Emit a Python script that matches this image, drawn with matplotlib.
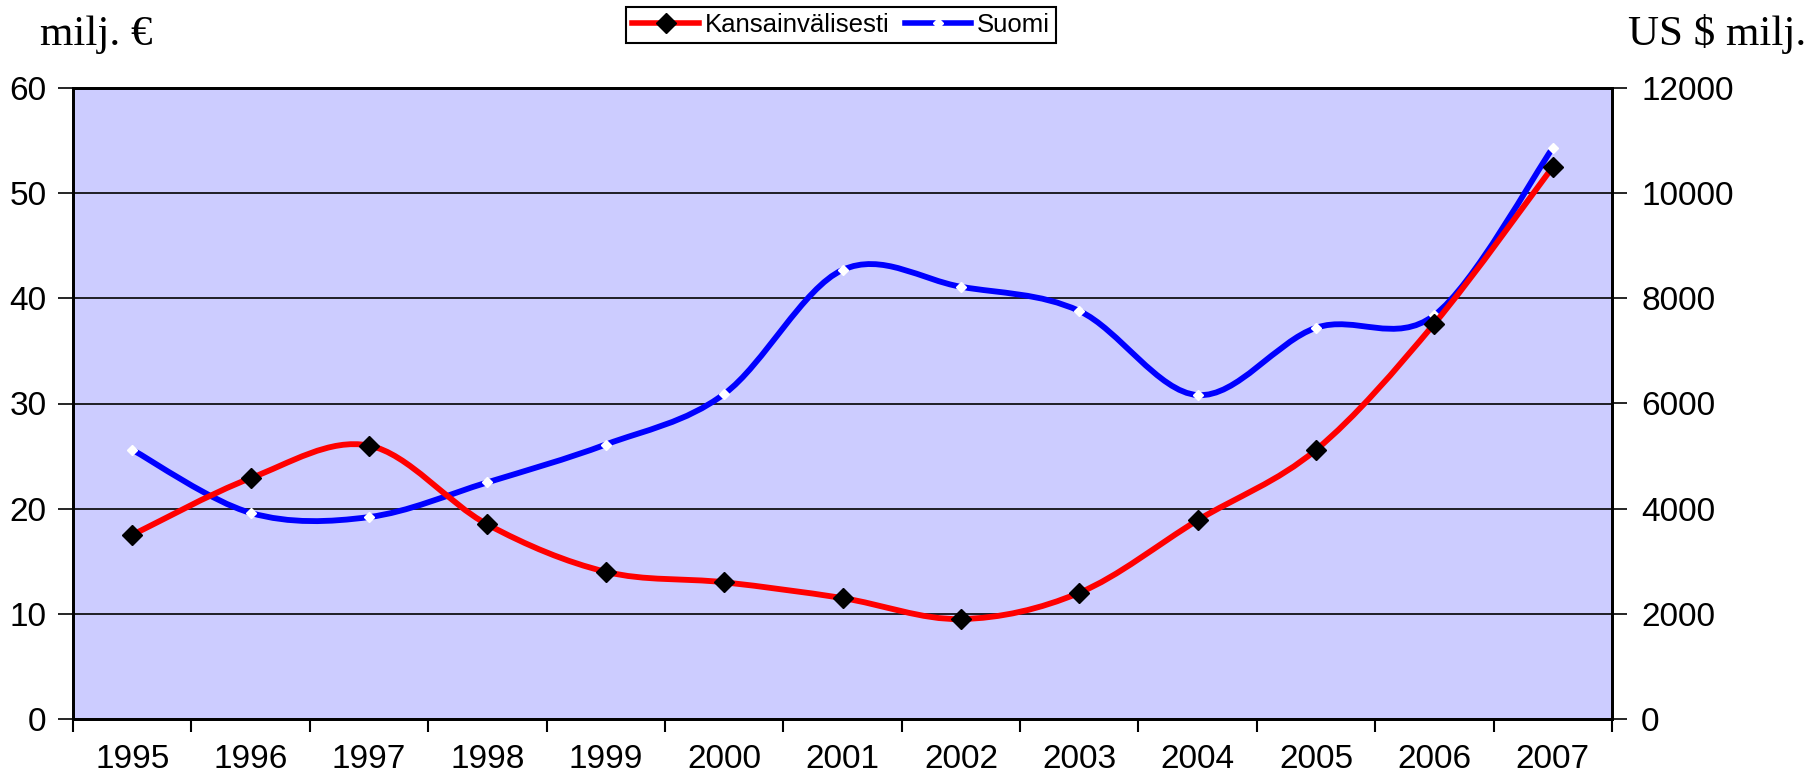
import numpy as np
import matplotlib
matplotlib.use('Agg')
import matplotlib.pyplot as plt
from matplotlib.path import Path
from matplotlib.patches import PathPatch
from matplotlib.lines import Line2D

years = ['1995', '1996', '1997', '1998', '1999', '2000', '2001',
         '2002', '2003', '2004', '2005', '2006', '2007']

# Kansainvälisesti, US $ milj. (right axis)
kansainvalisesti = [3500, 4580, 5200, 3700, 2800, 2600, 2300,
                    1900, 2400, 3780, 5120, 7520, 10500]
# Suomi, milj. € (left axis)
suomi = [25.6, 19.6, 19.2, 22.5, 26.1, 30.9, 42.7,
         41.1, 38.8, 30.8, 37.2, 38.4, 54.3]

plt.rcParams['font.family'] = ['Liberation Sans', 'DejaVu Sans']


def smooth_path(xs, ys):
    # excel-like smoothed line: cubic bezier segments through the points
    xs = np.asarray(xs, float)
    ys = np.asarray(ys, float)
    n = len(xs)
    verts = [(xs[0], ys[0])]
    codes = [Path.MOVETO]
    for i in range(n - 1):
        i0 = max(i - 1, 0)
        i3 = min(i + 2, n - 1)
        c1 = (xs[i] + (xs[i + 1] - xs[i0]) / 6, ys[i] + (ys[i + 1] - ys[i0]) / 6)
        c2 = (xs[i + 1] - (xs[i3] - xs[i]) / 6, ys[i + 1] - (ys[i3] - ys[i]) / 6)
        verts += [c1, c2, (xs[i + 1], ys[i + 1])]
        codes += [Path.CURVE4] * 3
    return Path(verts, codes)


fig = plt.figure(figsize=(18.14, 7.73), dpi=100)
ax = fig.add_axes([73 / 1814, 1 - 719 / 773, (1612 - 73) / 1814, (719 - 88) / 773])
ax.set_facecolor('#CCCCFF')
x = np.arange(len(years))

ax.set_xlim(-0.5, len(years) - 0.5)
ax.set_ylim(0, 60)
ax.set_yticks(range(0, 61, 10))
ax.yaxis.grid(True, color='black', linewidth=1.2)
ax.set_axisbelow(True)

ax.set_xticks(np.arange(-0.5, len(years), 1.0))
ax.set_xticklabels([])
ax.set_xticks(x, minor=True)
ax.set_xticklabels(years, minor=True)
ax.tick_params(axis='x', which='major', length=9, width=1.5, direction='out')
ax.tick_params(axis='x', which='minor', length=0, pad=18, labelsize=24)
ax.tick_params(axis='y', length=11, width=1.2, pad=8, labelsize=24)
for s in ax.spines.values():
    s.set_linewidth(2)

ax.add_patch(PathPatch(smooth_path(x, suomi), facecolor='none',
                       edgecolor='#0000FF', linewidth=4.2, zorder=3))
ax.plot(x, suomi, linestyle='none', marker='D', markersize=5.5,
        markerfacecolor='white', markeredgecolor='white', zorder=4)

ax2 = ax.twinx()
ax2.set_ylim(0, 12000)
ax2.set_yticks(range(0, 12001, 2000))
ax2.tick_params(axis='y', length=11, width=1.2, pad=10, labelsize=24)
for s in ax2.spines.values():
    s.set_linewidth(2)
ax2.add_patch(PathPatch(smooth_path(x, kansainvalisesti), facecolor='none',
                        edgecolor='#FF0000', linewidth=4.2, zorder=3))
ax2.plot(x, kansainvalisesti, linestyle='none', marker='D', markersize=10.5,
         markerfacecolor='black', markeredgecolor='black', zorder=4)

fig.text(40 / 1814, 1 - 45 / 773, 'milj. €', family='Liberation Serif',
         fontsize=31, ha='left', va='baseline')
fig.text(1806 / 1814, 1 - 45 / 773, 'US $ milj.', family='Liberation Serif',
         fontsize=31, ha='right', va='baseline')

handles = [
    Line2D([], [], color='#FF0000', linewidth=4, marker='D', markersize=10,
           markerfacecolor='black', markeredgecolor='black'),
    Line2D([], [], color='#0000FF', linewidth=4, marker='D', markersize=5.5,
           markerfacecolor='white', markeredgecolor='white'),
]
leg = fig.legend(handles, ['Kansainvälisesti', 'Suomi'], loc='center',
                 bbox_to_anchor=(841 / 1814, 1 - 25 / 773), ncol=2,
                 fontsize=18.5, numpoints=1, handlelength=2.6, handletextpad=0.2,
                 columnspacing=0.6, borderpad=0.25, fancybox=False,
                 edgecolor='black', framealpha=1)
leg.get_frame().set_linewidth(1.5)

fig.savefig('out.png', dpi=100)
